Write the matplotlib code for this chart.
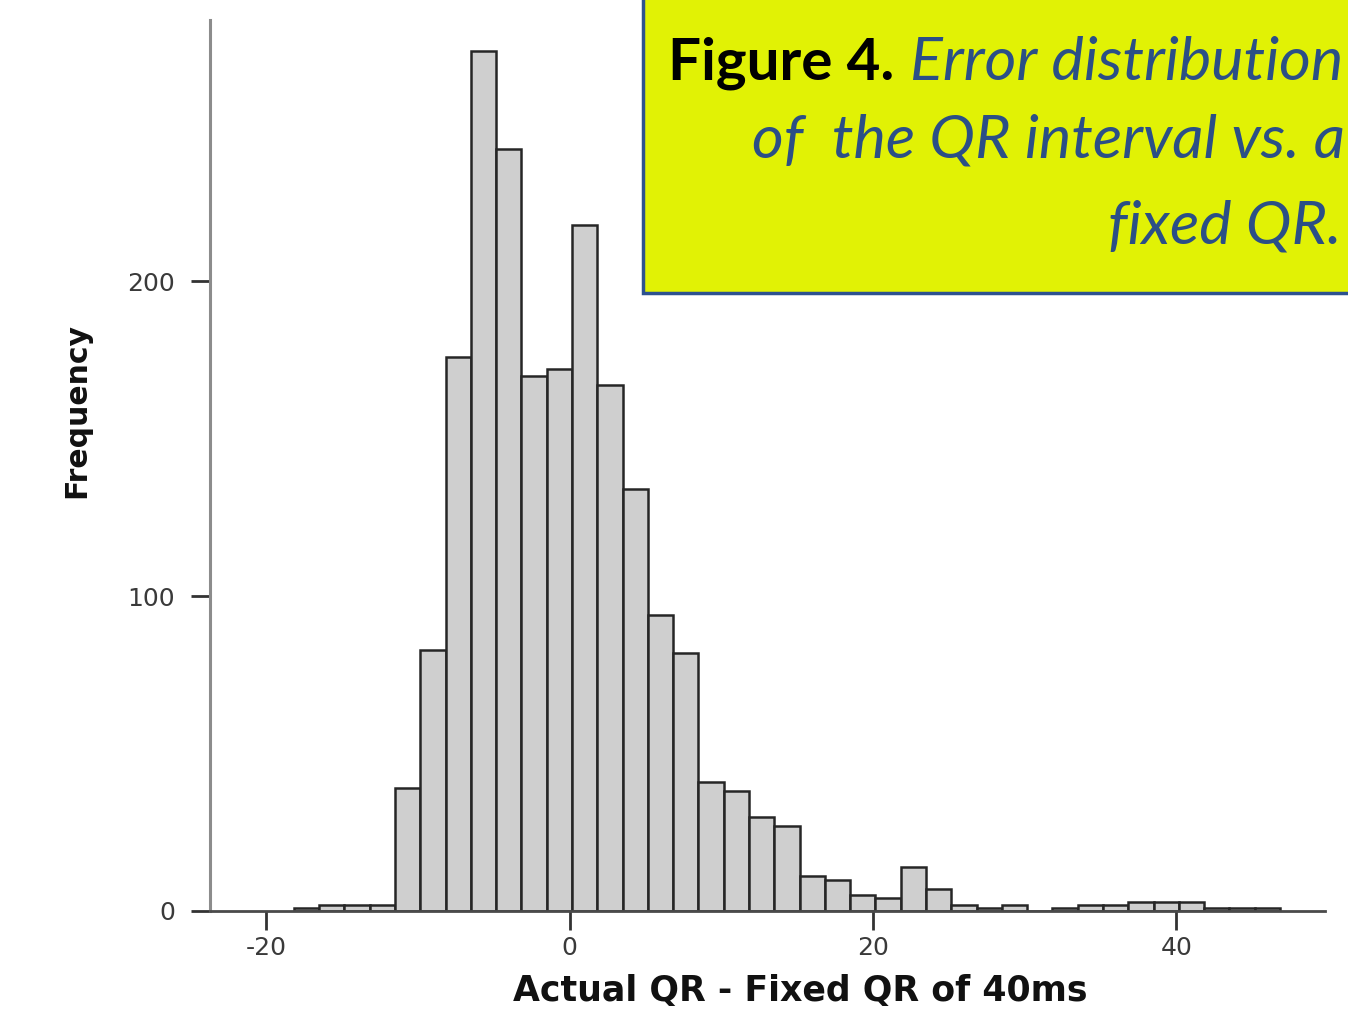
import numpy as np
import matplotlib.pyplot as plt
from matplotlib.patches import Rectangle

plt.rcParams['axes.unicode_minus'] = False

# data: histogram of (actual QR - fixed QR of 40 ms), bin width 5/3 ms
bin_start = -18.17
bin_width = 5.0 / 3.0
counts = [1, 2, 2, 2, 39, 83, 176, 273, 242, 170, 172, 218, 167, 134, 94, 82,
          41, 38, 30, 27, 11, 10, 5, 4, 14, 7, 2, 1, 2, 0, 1, 2, 2, 3, 3, 3,
          1, 1, 1]
edges = bin_start + bin_width * np.arange(len(counts))

x_ticks = [-20, 0, 20, 40]
y_ticks = [0, 100, 200]

W, H = 1348, 1016
fig = plt.figure(figsize=(W / 100, H / 100), dpi=100)
ax = fig.add_axes([210 / W, 1 - 911 / H, (1325 - 210) / W, (911 - 20) / H])

ax.bar(edges, counts, width=bin_width, align='edge', color='#cfcfcf',
       edgecolor='#262626', linewidth=1.8, zorder=2)

ax.set_xlim(-23.7, 49.8)
ax.set_ylim(0, 283)

# spines
for s in ['top', 'right']:
    ax.spines[s].set_visible(False)
ax.spines['left'].set_color('#8c8c8c')
ax.spines['left'].set_linewidth(2.2)
ax.spines['bottom'].set_color('#4a4a4a')
ax.spines['bottom'].set_linewidth(2.0)

ax.set_xticks(x_ticks)
ax.set_yticks(y_ticks)
ax.tick_params(axis='y', length=14, width=2, color='#333333', pad=11,
               labelsize=18, labelcolor='#3a3a3a')
ax.tick_params(axis='x', length=14, width=2, color='#333333', pad=4,
               labelsize=18, labelcolor='#3a3a3a')

ax.set_xlabel('Actual QR - Fixed QR of 40ms', fontsize=25, fontweight='bold',
              color='#111111')
ax.xaxis.set_label_coords((800 - 210) / (1325 - 210), -(1008 - 911) / (911 - 20))
ax.xaxis.label.set_va('bottom')
ax.set_ylabel('Frequency', fontsize=21.5, fontweight='bold', color='#111111')
ax.yaxis.set_label_coords(-(210 - 62) / (1325 - 210), (911 - 411) / (911 - 20))
ax.yaxis.label.set_va('top')

# yellow caption box (runs off the top/right edge)
box = Rectangle((643 / W, 1 - 293 / H), 0.6, 0.4, transform=fig.transFigure,
                facecolor='#e1f205', edgecolor='#2e528f', linewidth=2.5,
                zorder=5)
fig.patches.append(box)

clip = Rectangle((0, 0), 1, 1, transform=fig.transFigure, visible=False)
fig.patches.append(clip)

def caption(x, y, s, size=44, **kw):
    t = fig.text(x / W, 1 - y / H, s, fontsize=size, zorder=6,
                 family=['Lato', 'DejaVu Sans'], va='baseline', **kw)
    t.set_clip_path(clip)
    return t

caption(668, 80, 'Figure 4.', size=42, fontweight='bold', color='black')
caption(910, 80, 'Error distribution', style='italic', color='#2b4f86')
caption(752, 157, 'of  the QR interval vs. a', style='italic', color='#2b4f86')
caption(1341, 243, 'fixed QR.', style='italic', color='#2b4f86', ha='right')

fig.savefig('out.png', dpi=100)
